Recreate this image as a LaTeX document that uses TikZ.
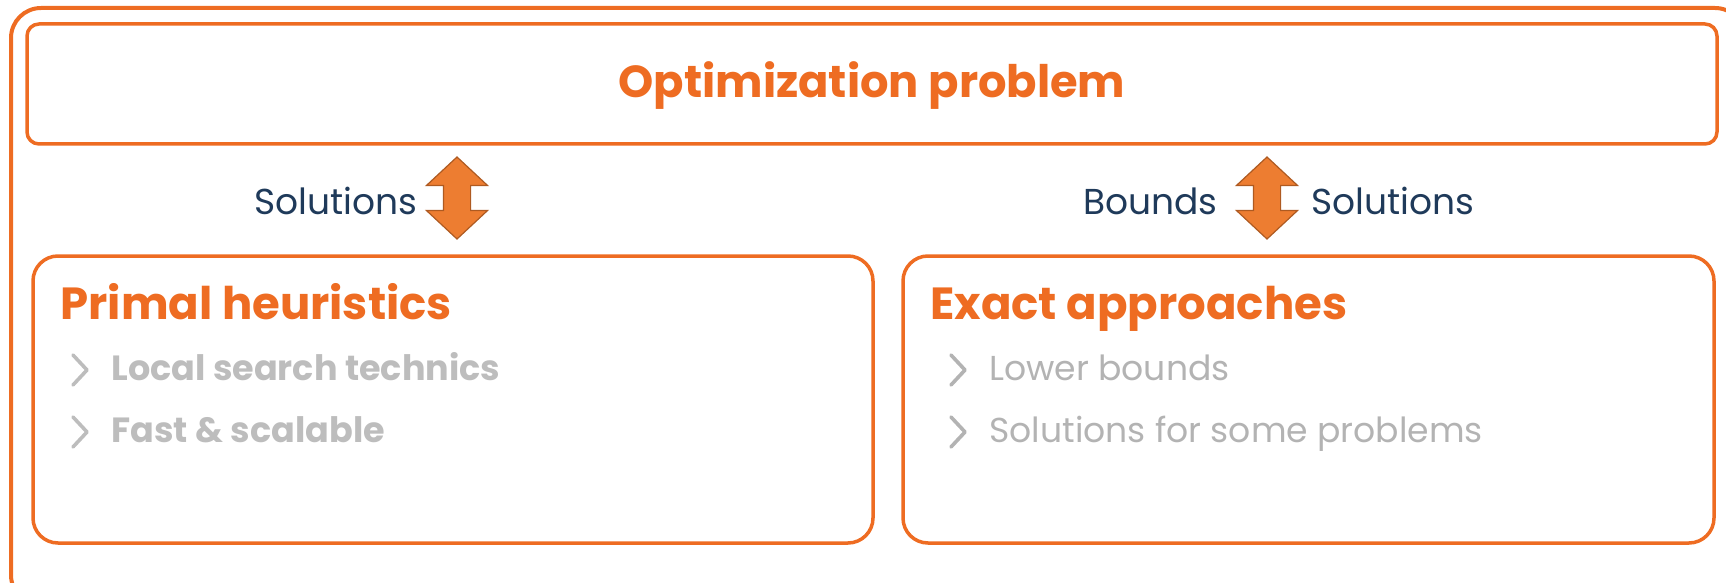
\documentclass[tikz,border=0pt]{standalone}
\usepackage{fontspec}
\setmainfont{Poppins}
\usetikzlibrary{positioning,shapes.arrows}

\definecolor{orng}{HTML}{EE6C22}
\definecolor{navy}{HTML}{1F3A5A}
\definecolor{gry}{HTML}{BDBDBD}
\definecolor{gryl}{HTML}{B3B3B3}
\definecolor{arrfill}{HTML}{ED7D31}
\definecolor{arrdraw}{HTML}{AE5A21}

\begin{document}
\begin{tikzpicture}[x=0.5pt, y=-0.5pt,
	box/.style={draw=orng, line width=1.75pt, rounded corners=12.5pt, inner sep=0pt},
	head/.style={text=orng, font=\bfseries\fontsize{22.5}{27}\selectfont, anchor=base west, inner sep=0pt},
	item/.style={text=gry, font=\bfseries\fontsize{17.5}{21}\selectfont, anchor=base west, inner sep=0pt},
	lbl/.style={text=navy, font=\fontsize{18}{21}\selectfont, inner sep=0pt, yshift=-1.5pt},
	updown/.style={double arrow, rotate=90, fill=arrfill, draw=arrdraw, line width=0.6pt,
		minimum height=41pt, inner xsep=0pt, inner ysep=6.5pt, double arrow head extend=8.5pt,
		double arrow tip angle=94},
	chev/.style={draw=gry, line width=1.8pt, line cap=round, line join=round}]
	\useasboundingbox (0,0) rectangle (1726,583);
	\node[box, draw=orng, line width=2pt, rounded corners=15pt, minimum width=867pt, minimum height=298.5pt] (frame) at (878,306.5) {};
	\node[box, rounded corners=6pt, minimum width=845pt, minimum height=60pt] (problem) at (872,84) {};
	\node[text=orng, font=\bfseries\fontsize{22.4}{27}\selectfont] (ptitle) at (872,86) {Optimization problem};
	\node[box, minimum width=420pt, minimum height=143.5pt] (primal) at (453,399.5) {};
	\node[box, minimum width=405.5pt, minimum height=143.5pt] (exact) at (1308.5,399.5) {};
	% arrows between the boxes
	\node[updown] (arr1) at (457,198) {};
	\node[updown] (arr2) at (1267,198) {};
	\node[lbl, left=12.5pt of arr1.north] (sol1) {Solutions};
	\node[lbl, left=17.5pt of arr2.north] (bnd) {Bounds};
	\node[lbl, right=15pt of arr2.south] (sol2) {Solutions};
	% primal heuristics
	\node[head] (htitle) at (60,319) {Primal heuristics};
	\node[item] (h1) at (111,380) {Local search technics};
	\node[item] (h2) at (111,442) {Fast \& scalable};
	\draw[chev] (73,355) -- (87,370) -- (73,385);
	\draw[chev] (73,417) -- (87,432) -- (73,447);
	% exact approaches
	\node[head] (etitle) at (930,319) {Exact approaches};
	\node[item, text=gryl, font=\fontsize{17.3}{20}\selectfont] (e1) at (989,380) {Lower bounds};
	\node[item, text=gryl, font=\fontsize{17.3}{20}\selectfont] (e2) at (989,442) {Solutions for some problems};
	\draw[chev, draw=gryl] (951,355) -- (965,370) -- (951,385);
	\draw[chev, draw=gryl] (951,417) -- (965,432) -- (951,447);
\end{tikzpicture}
\end{document}
